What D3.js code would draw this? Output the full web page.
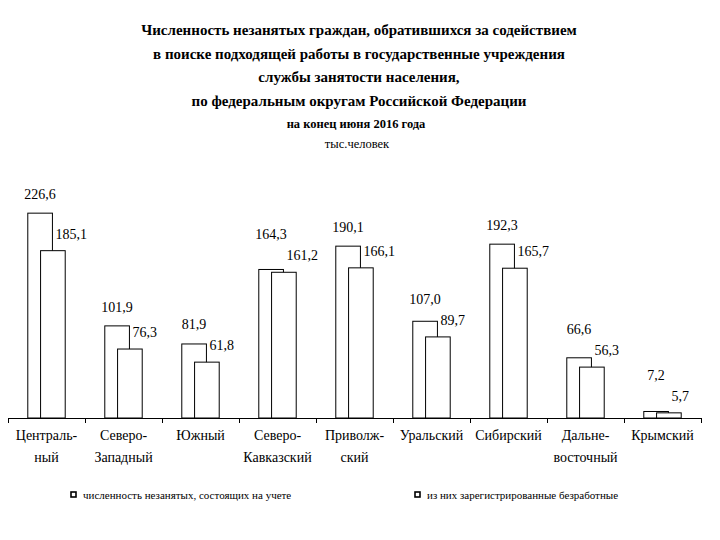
<!DOCTYPE html>
<html>
<head>
<meta charset="utf-8">
<script src="https://cdn.jsdelivr.net/npm/d3@7"></script>
<style>
  body { margin: 0; background: #fff; }
</style>
</head>
<body>
<div id="container"></div>
<script>
// chart data
const titleLines = [
  "Численность незанятых граждан, обратившихся за содействием",
  "в поиске подходящей работы в государственные учреждения",
  "службы занятости населения,",
  "по федеральным округам Российской Федерации"
];
const subTitle = "на конец июня 2016 года";
const unitLabel = "тыс.человек";
const categories = [
  ["Централь-", "ный"],
  ["Северо-", "Западный"],
  ["Южный"],
  ["Северо-", "Кавказский"],
  ["Приволж-", "ский"],
  ["Уральский"],
  ["Сибирский"],
  ["Дальне-", "восточный"],
  ["Крымский"]
];
const seriesNames = [
  "численность незанятых, состоящих на учете",
  "из них зарегистрированные безработные"
];
const onRecord = [226.6, 101.9, 81.9, 164.3, 190.1, 107.0, 192.3, 66.6, 7.2];
const unemployed = [185.1, 76.3, 61.8, 161.2, 166.1, 89.7, 165.7, 56.3, 5.7];

const width = 720;
const height = 540;
const marginLeft = 8;
const marginRight = 19;
const baseY = 418;
const topY = 192;
const serif = "'Liberation Serif', 'Times New Roman', 'DejaVu Serif', serif";

const keys = categories.map(d => d.join(""));
const fmt = v => d3.format(".1f")(v).replace(".", ",");

// x scale: one band per district
const x = d3.scaleBand()
    .domain(keys)
    .range([marginLeft, width - marginRight])
    .padding(0);

// y scale
const y = d3.scaleLinear()
    .domain([0, 250])
    .range([baseY, topY]);

const svg = d3.create("svg")
    .attr("width", width)
    .attr("height", height)
    .attr("viewBox", [0, 0, width, height])
    .attr("font-family", serif);

svg.append("rect").attr("width", width).attr("height", height).attr("fill", "#fff");

// title
svg.append("g")
  .selectAll("text")
  .data(titleLines)
  .join("text")
    .attr("x", 359)
    .attr("y", (d, i) => 35 + i * 23.7)
    .attr("text-anchor", "middle")
    .attr("font-size", 15)
    .attr("font-weight", "bold")
    .text(d => d);

svg.append("text")
    .attr("x", 356)
    .attr("y", 128)
    .attr("text-anchor", "middle")
    .attr("font-size", 12.5)
    .attr("font-weight", "bold")
    .text(subTitle);

svg.append("text")
    .attr("x", 357)
    .attr("y", 148)
    .attr("text-anchor", "middle")
    .attr("font-size", 12.5)
    .text(unitLabel);

const bw = x.bandwidth();
const barW = bw * 0.32;
const shift = bw * 0.083;
const rows = keys.map((k, i) => ({ key: k, a: onRecord[i], b: unemployed[i] }));

const groups = svg.append("g")
  .selectAll("g")
  .data(rows)
  .join("g")
    .attr("transform", d => `translate(${x(d.key) + bw / 2},0)`);

// first series bar (behind)
groups.append("rect")
    .attr("x", -shift - barW / 2)
    .attr("y", d => y(d.a))
    .attr("width", barW)
    .attr("height", d => y(0) - y(d.a))
    .attr("fill", "#fff")
    .attr("stroke", "#000")
    .attr("stroke-width", 1);

// second series bar (front)
groups.append("rect")
    .attr("x", shift - barW / 2)
    .attr("y", d => y(d.b))
    .attr("width", barW)
    .attr("height", d => y(0) - y(d.b))
    .attr("fill", "#fff")
    .attr("stroke", "#000")
    .attr("stroke-width", 1);

// value labels
const labB = d => y(d.b) - 12;
groups.append("text")
    .attr("x", -shift + barW / 2 + 3)
    .attr("y", labB)
    .attr("font-size", 14)
    .text(d => fmt(d.b));

groups.append("text")
    .attr("x", -shift)
    .attr("y", d => Math.min(y(d.a) - 14, labB(d) - 21))
    .attr("text-anchor", "middle")
    .attr("font-size", 14)
    .text(d => fmt(d.a));

// baseline with ticks between districts
const xEdge = d3.scaleLinear()
    .domain([0, keys.length])
    .range(x.range());

svg.append("g")
    .attr("transform", `translate(0,${baseY})`)
    .call(d3.axisBottom(xEdge).ticks(keys.length).tickSize(5).tickSizeOuter(0).tickFormat(""))
    .call(g => g.selectAll("line, path").attr("stroke", "#000"));

// district names
const xAxis = svg.append("g")
    .attr("transform", `translate(0,${baseY})`)
    .call(d3.axisBottom(x).tickSize(0).tickFormat(""))
    .call(g => g.attr("font-family", null).attr("font-size", null))
    .call(g => g.select(".domain").remove());

xAxis.selectAll(".tick")
  .append("text")
    .attr("text-anchor", "middle")
    .attr("font-size", 14)
    .attr("fill", "#000")
    .each(function (k, i) {
      d3.select(this).selectAll("tspan")
        .data(categories[i])
        .join("tspan")
          .attr("x", 0)
          .attr("y", (d, j) => 22 + j * 22)
          .text(d => d);
    });

// legend
const legendX = [71, 415];
const legend = svg.append("g")
  .selectAll("g")
  .data(seriesNames)
  .join("g")
    .attr("transform", (d, i) => `translate(${legendX[i]},492)`);

legend.append("rect")
    .attr("width", 5)
    .attr("height", 5)
    .attr("fill", "#fff")
    .attr("stroke", "#000")
    .attr("stroke-width", 1.6);

legend.append("text")
    .attr("x", 12)
    .attr("y", 7)
    .attr("font-size", 11)
    .text(d => d);

container.append(svg.node());
</script>
</body>
</html>
